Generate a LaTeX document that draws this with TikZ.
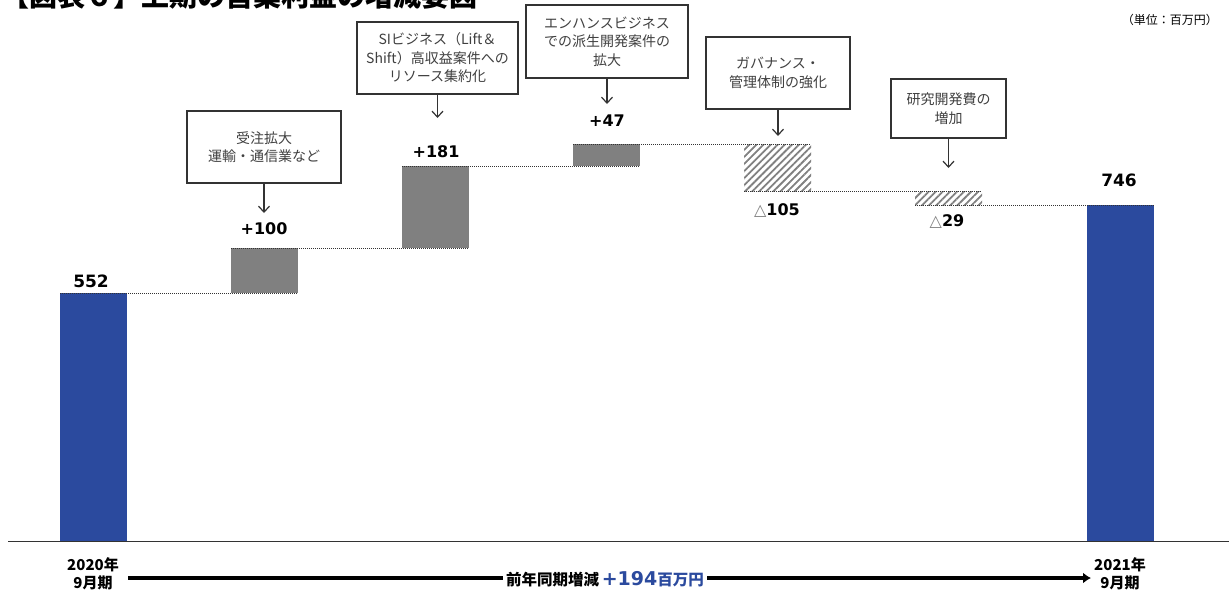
\documentclass[tikz,border=0pt]{standalone}
\usepackage{fontspec}
\setmainfont{DejaVu Sans}
\newfontfamily\jp{Noto Sans CJK JP}
\usetikzlibrary{arrows.meta,patterns.meta}
\definecolor{barblue}{HTML}{2B4A9E}
\definecolor{bargray}{HTML}{808080}
\definecolor{txtgray}{HTML}{404040}
\definecolor{lineclr}{HTML}{333333}

\begin{document}
\begin{tikzpicture}[x=1pt,y=-1pt,
        note/.style={draw=lineclr,line width=1.3pt,fill=white,align=center,inner sep=0pt,
            text=txtgray,font=\jp\fontsize{14}{18.5}\selectfont},
        val/.style={inner sep=0pt,font=\bfseries\fontsize{16}{16}\selectfont},
        pointer/.style={draw=lineclr,line width=1.2pt,-{Straight Barb[length=6pt,width=11pt]}},
        level/.style={lineclr,line width=0.9pt,dash pattern=on 1pt off 1pt},
        hatch/.style={pattern={Lines[angle=45,distance=5pt,line width=1.8pt]},pattern color=bargray},
        yearlbl/.style={align=center,inner sep=0pt,font=\jp\bfseries\fontsize{15}{18}\selectfont}]
    \useasboundingbox (0,0) rectangle (1229,590);
    %% title (cut by the page edge) and unit
    \node[anchor=base west,inner sep=0pt,font=\jp\bfseries\fontsize{28}{28}\selectfont] (ttl) at (1,6) {【図表６】上期の営業利益の増減要因};
    \node[anchor=east,inner sep=0pt,font=\jp\fontsize{12}{12}\selectfont] (unit) at (1218,20) {（単位：百万円）};
    %% start and end bars
    \fill[barblue] (60,293) rectangle (127,541);
    \fill[barblue] (1087,205) rectangle (1154,541);
    %% increases
    \foreach \x/\t/\b in {231/248/293,402/166/248,573/144/166}
        \fill[bargray] (\x,\t) rectangle ++(67,\b-\t);
    %% decreases
    \foreach \x/\t/\b in {744/144/191,915/191/205}
        \fill[hatch] (\x,\t) rectangle ++(67,\b-\t);
    %% dotted levels
    \foreach \a/\z/\y in {60/298/293,231/469/248,402/640/166,573/811/144,744/982/191,915/1154/205}
        \draw[level] (\a,\y) -- (\z,\y);
    %% base line
    \draw[lineclr,line width=1pt] (8,541) -- (1229,541);
    %% values
    \node[val,font=\bfseries\fontsize{17}{17}\selectfont] (v552) at (91,281) {552};
    \node[val] (v100) at (264,229) {+100};
    \node[val] (v181) at (436,152) {+181};
    \node[val] (v47) at (607,121) {+47};
    \node[val] (v105) at (777,211) {{\mdseries\color{gray}△}105};
    \node[val] (v29) at (947,222) {{\mdseries\color{gray}△}29};
    \node[val,font=\bfseries\fontsize{17}{17}\selectfont] (v746) at (1119,180) {746};
    %% notes
    \node[note,minimum width=154,minimum height=72] (n1) at (264,147) {受注拡大\\運輸・通信業など};
    \node[note,minimum width=161,minimum height=72] (n2) at (437.5,58) {SIビジネス（Lift＆\\Shift）高収益案件への\\リソース集約化};
    \node[note,minimum width=162,minimum height=73] (n3) at (607,41.5) {エンハンスビジネス\\での派生開発案件の\\拡大};
    \node[note,minimum width=144,minimum height=72] (n4) at (778,73) {ガバナンス・\\管理体制の強化};
    \node[note,minimum width=115,minimum height=59] (n5) at (948.5,108.5) {研究開発費の\\増加};
    \coordinate (t1) at (264,213);
    \coordinate (t2) at (437.5,118);
    \coordinate (t3) at (607,104);
    \coordinate (t4) at (778,136);
    \coordinate (t5) at (948.5,168);
    \foreach \i in {1,...,5}
        \draw[pointer] (n\i) -- (t\i);
    %% period axis
    \node[yearlbl] (y20) at (93,574) {2020年\\9月期};
    \node[yearlbl] (y21) at (1120,574) {2021年\\9月期};
    \coordinate (a0) at (128,578);
    \coordinate (a1) at (1091,578);
    \draw[line width=4pt,-{Latex[length=8pt,width=11pt]}] (a0) -- (a1);
    \node[fill=white,inner xsep=3pt,inner ysep=1pt] (diff) at (605,579)
        {\jp\bfseries\fontsize{15.5}{15.5}\selectfont 前年同期増減\,\color{barblue}{\normalfont\bfseries\fontsize{19}{19}\selectfont +194}百万円};
\end{tikzpicture}
\end{document}
